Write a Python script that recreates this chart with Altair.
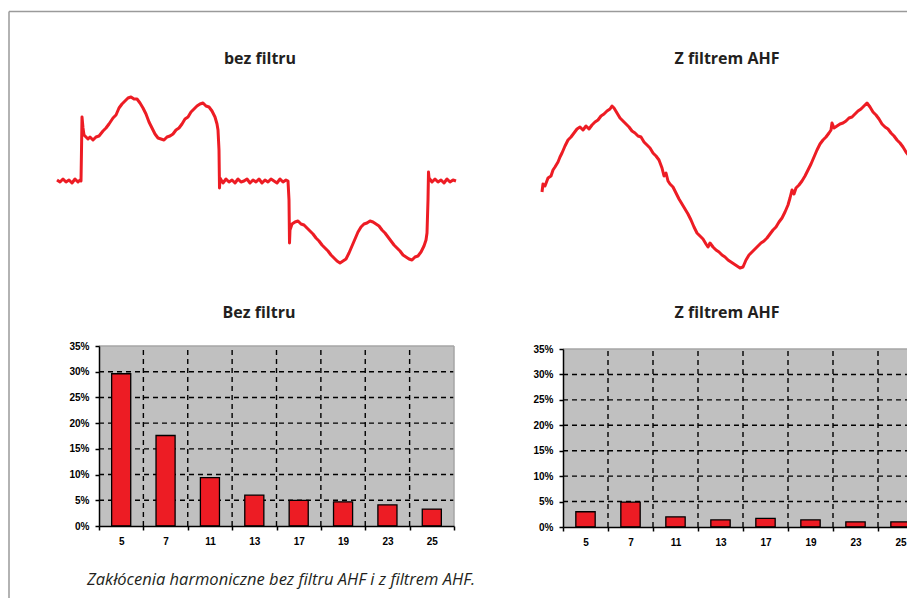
import altair as alt
import pandas as pd

# ---------------- data ----------------
harmonics = ["5", "7", "11", "13", "17", "19", "23", "25"]
thd_bez = [29.6, 17.6, 9.4, 6.0, 5.0, 4.7, 4.1, 3.3]
thd_ahf = [3.0, 4.9, 2.0, 1.4, 1.7, 1.4, 1.0, 1.0]
pct_ticks = [0, 5, 10, 15, 20, 25, 30, 35]
grid_pct = [5, 10, 15, 20, 25, 30]
grid_idx = [1, 2, 3, 4, 5, 6, 7]

# waveform without filter (sample index, amplitude)
wave_bez_t = [0, 3, 6, 9, 12, 15, 18, 21, 23,
              24, 24.5, 25, 26, 27, 29, 31, 33, 36, 39, 42, 46, 49, 52, 56, 59, 62, 65, 68, 71,
              74, 77, 80, 83, 86, 89, 92, 95, 98, 101, 104, 107, 110, 113, 116, 119, 122, 125, 128, 131,
              134, 137, 140, 143, 146, 149, 152, 155, 158, 160, 161, 162, 162.5,
              163, 166, 169, 172, 175, 178, 181, 184, 187, 190, 193, 196, 199, 202, 205, 208, 211, 214,
              217, 220, 223, 226, 229, 231,
              232, 232.5, 233, 235, 238, 241, 244, 247, 250, 253, 256, 259, 262, 265, 268, 271, 274, 277,
              280, 283, 286, 289, 292, 295, 298, 301, 304, 307, 310, 313, 316, 319, 322, 325, 328, 331,
              334, 337, 340, 343, 346, 349, 352, 355, 358, 361, 364, 367, 369, 370, 371, 371.5,
              372, 375, 378, 381, 384, 387, 390, 393, 396, 399]
wave_bez_a = [1, -1, 2, -1, 1, -2, 2, -1, 1,
              0, 31, 64, 53, 46, 44, 42, 44, 41, 44, 45, 50, 53, 57, 63, 66, 73, 77, 80, 83,
              84, 82, 82, 78, 73, 67, 59, 53, 47, 43, 42, 41, 44, 45, 47, 51, 53, 57, 62, 64,
              69, 72, 75, 77, 78, 75, 74, 70, 64, 57, 51, 31, -7,
              3, -2, 2, -1, 1, -2, 2, -1, 0, 2, -2, 1, -1, 2, -2, 1, -1, 2,
              0, -2, 2, -1, 1, 0,
              -19, -62, -49, -43, -41, -40, -43, -44, -47, -50, -53, -57, -60, -64, -67, -70, -74, -77,
              -80, -82, -80, -78, -72, -65, -58, -51, -46, -43, -42, -40, -41, -43, -45, -49, -52, -56,
              -60, -64, -67, -70, -74, -76, -78, -79, -76, -75, -71, -65, -59, -52, -19, 9,
              3, -1, 2, -1, 1, -2, 2, -1, 1, 0]

# waveform with AHF filter (sample index, amplitude)
wave_ahf_t = [0, 1, 3, 6, 9, 11, 13, 16, 18, 20, 23, 26, 29, 32, 35, 38, 41, 44, 47, 50,
              53, 56, 59, 62, 65, 68, 70, 72, 75, 78, 81, 84, 87, 90, 93, 96, 99, 102, 105, 108,
              111, 114, 117, 120, 122, 124, 126, 128, 131, 134, 137, 140, 143, 146, 149, 152, 155, 158, 161, 164,
              166, 168, 171, 174, 177, 180, 183, 186, 189, 192, 195, 198, 201, 204, 207, 210, 213, 216, 219, 222,
              225, 228, 231, 234, 237, 240, 243, 246, 248, 250, 252, 254, 257, 260, 263, 266, 269, 272, 275, 278,
              281, 284, 287, 289, 290, 292, 295, 298, 301, 304, 307, 310, 313, 316, 319, 322, 325, 328, 331, 334,
              337, 340, 343, 346, 349, 352, 355, 358, 361, 364, 367, 370, 373, 378, 383]
wave_ahf_a = [-6, 2, 0, 8, 10, 16, 19, 24, 29, 33, 40, 46, 49, 53, 57, 59, 56, 60, 57, 61,
              64, 66, 70, 72, 75, 77, 80, 78, 73, 68, 65, 62, 59, 55, 53, 50, 49, 44, 41, 38,
              33, 30, 26, 18, 10, 13, 5, 2, -1, -7, -13, -18, -23, -28, -34, -41, -47, -50, -53, -58,
              -61, -57, -61, -64, -66, -69, -71, -74, -76, -78, -80, -82, -81, -74, -69, -66, -63, -60, -57, -55,
              -52, -48, -44, -41, -36, -32, -26, -19, -12, -4, -8, -2, 1, 5, 10, 16, 22, 29, 36, 42,
              46, 49, 53, 56, 63, 58, 60, 62, 63, 65, 68, 69, 72, 75, 77, 80, 83, 79, 74, 71,
              67, 62, 59, 57, 53, 50, 46, 43, 39, 34, 30, 25, 19, 10, 2]

title_top_left = "bez filtru"
title_top_right = "Z filtrem AHF"
title_bar_left = "Bez filtru"
title_bar_right = "Z filtrem AHF"
caption = "Zakłócenia harmoniczne bez filtru AHF i z filtrem AHF."

# ---------------- style ----------------
W, H = 899, 590
RED = "#ed1c24"
TXT = "#231f20"
AXFONT = "Liberation Sans"

one = pd.DataFrame({"k": [0]})


def wave_layer(t, a, xdom, xr, ydom, yr):
    df = pd.DataFrame({"t": t, "a": a})
    return alt.Chart(df).mark_line(color=RED, strokeWidth=3, strokeJoin="round").encode(
        x=alt.X("t:Q", scale=alt.Scale(domain=xdom, range=xr, nice=False, zero=False), axis=None),
        y=alt.Y("a:Q", scale=alt.Scale(domain=ydom, range=yr, nice=False, zero=False), axis=None),
        order="t:Q",
    )


def bar_panel(vals, xr, yr, yoff_bottom):
    n = len(harmonics)
    xs = alt.Scale(domain=[0, n], range=xr, nice=False, zero=False)
    ys = alt.Scale(domain=[0, 35], range=yr, nice=False, zero=False)
    bg = alt.Chart(pd.DataFrame({"x0": [0], "x1": [n], "y0": [0], "y1": [35]})).mark_rect(
        color="#c0c0c0").encode(
        x=alt.X("x0:Q", scale=xs, axis=None), x2="x1",
        y=alt.Y("y0:Q", scale=ys, axis=None), y2="y1")
    hgrid = alt.Chart(pd.DataFrame({"v": grid_pct, "x0": [0] * len(grid_pct), "x1": [n] * len(grid_pct)})).mark_rule(
        color="black", strokeWidth=1.4, strokeDash=[5, 4]).encode(
        x=alt.X("x0:Q", scale=xs, axis=None), x2="x1",
        y=alt.Y("v:Q", scale=ys, axis=None))
    vgrid = alt.Chart(pd.DataFrame({"i": grid_idx, "y0": [0] * len(grid_idx), "y1": [35] * len(grid_idx)})).mark_rule(
        color="black", strokeWidth=1.4, strokeDash=[5, 4]).encode(
        x=alt.X("i:Q", scale=xs, axis=None),
        y=alt.Y("y0:Q", scale=ys, axis=None), y2="y1")
    top = alt.Chart(pd.DataFrame({"v": [35], "x0": [0], "x1": [n]})).mark_rule(
        color="#a6a6a6", strokeWidth=1.5).encode(
        x=alt.X("x0:Q", scale=xs, axis=None), x2="x1",
        y=alt.Y("v:Q", scale=ys, axis=None))
    right = alt.Chart(pd.DataFrame({"i": [n], "y0": [0], "y1": [35]})).mark_rule(
        color="#a6a6a6", strokeWidth=1.5).encode(
        x=alt.X("i:Q", scale=xs, axis=None),
        y=alt.Y("y0:Q", scale=ys, axis=None), y2="y1")
    df = pd.DataFrame({"h": harmonics, "v": vals})
    bars = alt.Chart(df).mark_bar(
        color=RED, stroke="black", strokeWidth=1.3, width=alt.RelativeBandSize(0.43)).encode(
        x=alt.X("h:N", sort=harmonics,
                scale=alt.Scale(domain=harmonics, range=xr, paddingInner=0, paddingOuter=0),
                axis=alt.Axis(orient="bottom", offset=yoff_bottom, tickBand="extent", title=None,
                              grid=False, labelAngle=0, domainColor="black", domainWidth=1.5,
                              tickColor="black", tickWidth=1.5, tickSize=4, labelPadding=6,
                              labelFont=AXFONT, labelFontSize=10, labelFontWeight="bold",
                              labelColor="black", zindex=1)),
        y=alt.Y("v:Q", scale=ys,
                axis=alt.Axis(orient="left", offset=-xr[0], values=pct_ticks,
                              labelExpr="datum.value + '%'", title=None, grid=False,
                              domainColor="black", domainWidth=1.5, tickColor="black",
                              tickWidth=1.5, tickSize=4, labelPadding=6, labelFont=AXFONT,
                              labelFontSize=10, labelFontWeight="bold", labelColor="black",
                              zindex=1)),
    )
    return [bg, hgrid, vgrid, top, right, bars]


def text_layer(txt, x, y, size, weight="bold", style="normal", align="center"):
    return alt.Chart(one).mark_text(
        text=txt, font="Open Sans", fontSize=size, fontWeight=weight, fontStyle=style,
        color=TXT, align=align, baseline="middle").encode(x=alt.value(x), y=alt.value(y))


frame_h = alt.Chart(one).mark_rule(color="#9a9a9a", strokeWidth=1.5).encode(
    x=alt.value(1), x2=alt.value(W), y=alt.value(3.6))
frame_v = alt.Chart(one).mark_rule(color="#9a9a9a", strokeWidth=1.5).encode(
    x=alt.value(1), y=alt.value(3.6), y2=alt.value(H))

layers = [frame_h, frame_v]
layers.append(wave_layer(wave_bez_t, wave_bez_a, [0, 399], [49, 448], [-84, 84], [257, 89]))
layers.append(wave_layer(wave_ahf_t, wave_ahf_a, [0, 383], [534, 917], [-82, 82], [260, 96]))
layers += bar_panel(thd_bez, [91, 446], [518, 338], 518 - H)
layers += bar_panel(thd_ahf, [555, 915], [519, 341], 519 - H)
layers.append(text_layer(title_top_left, 252, 51, 16))
layers.append(text_layer(title_top_right, 719, 51, 16))
layers.append(text_layer(title_bar_left, 251, 305, 16))
layers.append(text_layer(title_bar_right, 719, 305, 16))
layers.append(text_layer(caption, 79, 572, 16.5, weight="normal", style="italic", align="left"))

chart = alt.layer(*layers).resolve_scale(x="independent", y="independent").properties(
    width=W, height=H, padding=0, autosize=alt.AutoSizeParams(type="none"),
    background="white").configure_view(stroke=None)

chart.save("out.html", embed_options={"renderer": "svg", "actions": False})
